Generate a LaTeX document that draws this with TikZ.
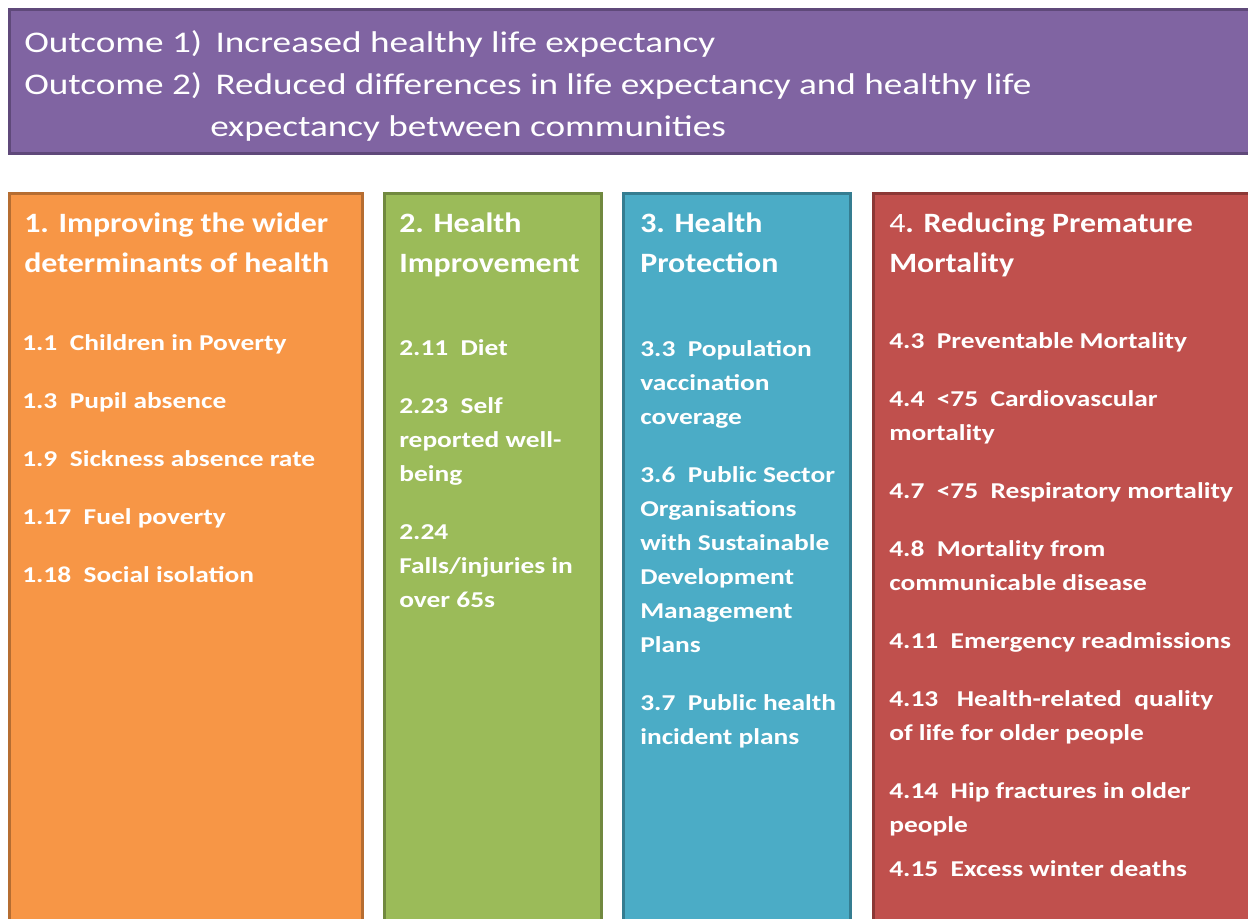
\documentclass[tikz,border=0pt]{standalone}
\usepackage{fontspec}
\setmainfont{Carlito}
\newfontfamily\outfont[FakeStretch=1.24]{Carlito}
\newfontfamily\headfont[FakeStretch=1.14]{Carlito}
\newfontfamily\itemfont[FakeStretch=1.21]{Carlito}
\usetikzlibrary{positioning}
\definecolor{outcomeFill}{HTML}{8064A2}
\definecolor{outcomeLine}{HTML}{5F497A}
\definecolor{widerFill}{HTML}{F79646}
\definecolor{widerLine}{HTML}{B66D31}
\definecolor{improveFill}{HTML}{9BBB59}
\definecolor{improveLine}{HTML}{71893F}
\definecolor{protectFill}{HTML}{4BACC6}
\definecolor{protectLine}{HTML}{357D91}
\definecolor{mortalFill}{HTML}{C0504D}
\definecolor{mortalLine}{HTML}{8C3836}
\tikzset{
panel/.style = {rectangle, anchor=north west, line width=2.25pt, inner sep=0pt},
column/.style = {panel, minimum height=553.5pt},
heading/.style = {anchor=base west, inner sep=0pt, text=white, font=\headfont\fontsize{21}{30}\selectfont\bfseries},
items/.style = {anchor=base west, inner sep=0pt, text=white, font=\itemfont\fontsize{17}{25.5}\selectfont\bfseries}
}
\newcommand{\gap}{\\[18pt]}
\newcommand{\itemlist}[1]{\parbox[t]{330pt}{\raggedright #1}}

\begin{document}
\begin{tikzpicture}[x=0.75pt,y=-0.75pt]
    \useasboundingbox (0,0) rectangle (1248,918);
    \clip (0,0) rectangle (1248,918);

    % outcomes banner
    \node [panel, fill=outcomeFill, draw=outcomeLine, minimum width=939pt, minimum height=108pt] (outcomes) at (8,8) {};
    \node [anchor=base west, inner sep=0pt, text=white, font=\outfont\fontsize{22.5}{31.5}\selectfont] (outtext) at (24,52)
        {\begin{tabular}[t]{@{}l@{\hspace{10pt}}l@{}}
         Outcome 1) & Increased healthy life expectancy\\
         Outcome 2) & Reduced differences in life expectancy and healthy life\\
                    & \hspace{-4pt}expectancy between communities
         \end{tabular}};

    % the four domains
    \node [column, fill=widerFill, draw=widerLine, minimum width=264.75pt] (wider) at (8,192) {};
    \node [column, fill=improveFill, draw=improveLine, minimum width=162.75pt] (improve) at (383,192) {};
    \node [column, fill=protectFill, draw=protectLine, minimum width=170.25pt] (protect) at (622,192) {};
    \node [column, fill=mortalFill, draw=mortalLine, minimum width=291pt] (mortal) at (872,192) {};

    \node [heading] (widerhead) at (24,232) {\itemlist{1. Improving the wider\\determinants of health}};
    \node [heading] (improvehead) at (399,232) {\itemlist{2. Health\\Improvement}};
    \node [heading] (protecthead) at (640,232) {\itemlist{3. Health\\Protection}};
    \node [heading] (mortalhead) at (889,232) {\itemlist{{\mdseries 4}. Reducing Premature\\Mortality}};

    \node [items] (wideritems) at (22,350) {\itemlist{%
        1.1~ Children in Poverty\gap
        1.3~ Pupil absence\gap
        1.9~ Sickness absence rate\gap
        1.17~ Fuel poverty\gap
        1.18~ Social isolation}};
    \node [items] (improveitems) at (399,355) {\itemlist{%
        2.11~ Diet\gap
        2.23~ Self\\reported well-\\being\gap
        2.24\\Falls/injuries in\\over 65s}};
    \node [items] (protectitems) at (640,356) {\itemlist{%
        3.3~ Population\\vaccination\\coverage\gap
        3.6~ Public Sector\\Organisations\\with Sustainable\\Development\\Management\\Plans\gap
        3.7~ Public health\\incident plans}};
    \node [items] (mortalitems) at (889,348) {\itemlist{%
        4.3~ Preventable Mortality\gap
        4.4~ <75~ Cardiovascular\\mortality\gap
        4.7~ <75~ Respiratory mortality\gap
        4.8~ Mortality from\\communicable disease\gap
        4.11~ Emergency readmissions\gap
        4.13~~ Health-related~ quality\\of life for older people\gap
        4.14~ Hip fractures in older\\people\\[8pt]
        4.15~ Excess winter deaths}};
\end{tikzpicture}
\end{document}
